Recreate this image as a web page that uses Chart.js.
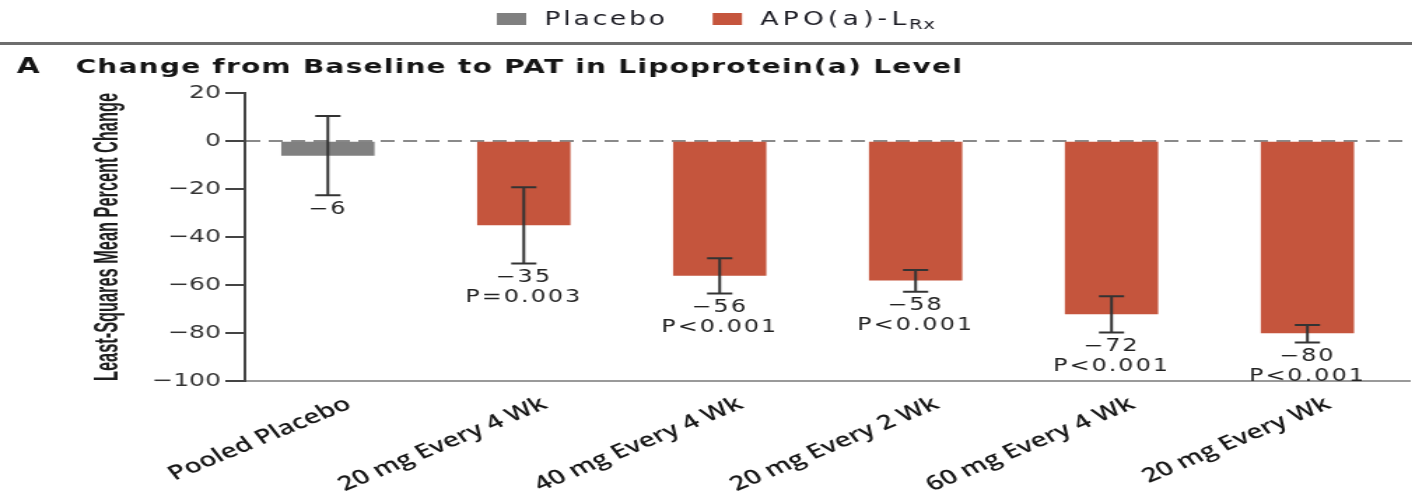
<!DOCTYPE html>
<html>
<head>
<meta charset="utf-8">
<script src="https://cdn.jsdelivr.net/npm/chart.js@4"></script>
<style>
  html, body { margin: 0; padding: 0; background: #fff; overflow: hidden; }
  /* the source figure is stretched horizontally, so draw narrow and stretch */
  #wrap { width: 1009px; height: 499px; transform: scaleX(1.3995); transform-origin: 0 0; }
</style>
</head>
<body>
<div id="wrap"><canvas id="chart" width="1009" height="499"></canvas></div>
<script>
// --- data ---
const categories = ['Pooled Placebo', '20 mg Every 4 Wk', '40 mg Every 4 Wk',
                    '20 mg Every 2 Wk', '60 mg Every 4 Wk', '20 mg Every Wk'];
const groups = ['placebo', 'drug', 'drug', 'drug', 'drug', 'drug'];
const means = [-6, -35, -56, -58, -72, -80];
const ciLow = [-22.6, -51, -63.5, -62.8, -79.8, -84];
const ciHigh = [10.4, -19.3, -48.9, -53.8, -64.7, -76.7];
const pValues = ['', 'P=0.003', 'P<0.001', 'P<0.001', 'P<0.001', 'P<0.001'];
const yTicks = [20, 0, -20, -40, -60, -80, -100];
const yTitle = 'Least-Squares Mean Percent Change';

const GRAY = '#808080';
const RED = '#c5553d';
const minus = v => (v < 0 ? '\u2212' + Math.abs(v) : String(v));

function pointsFor(group) {
  return categories.map((c, i) => i).filter(i => groups[i] === group)
    .map(i => ({ x: i, y: means[i] }));
}

// error bars, value labels, y title, panel title and legend
const extras = {
  id: 'extras',
  afterDatasetsDraw(chart) {
    const ctx = chart.ctx;
    const y = chart.scales.y;
    ctx.save();
    chart.data.datasets.forEach((ds, d) => {
      chart.getDatasetMeta(d).data.forEach((bar, j) => {
        const i = ds.data[j].x;
        const x = bar.x;
        const lo = y.getPixelForValue(ciLow[i]);
        const hi = y.getPixelForValue(ciHigh[i]);
        ctx.strokeStyle = '#333';
        ctx.lineWidth = 2;
        ctx.beginPath();
        ctx.moveTo(x, hi); ctx.lineTo(x, lo);
        ctx.moveTo(x - 9, hi); ctx.lineTo(x + 9, hi);
        ctx.moveTo(x - 9, lo); ctx.lineTo(x + 9, lo);
        ctx.stroke();

        ctx.fillStyle = '#222';
        ctx.font = '17px "DejaVu Sans"';
        ctx.letterSpacing = '1.5px';
        ctx.textAlign = 'center';
        ctx.textBaseline = 'middle';
        ctx.fillText(minus(means[i]), x, lo + 14);
        if (pValues[i]) ctx.fillText(pValues[i], x, lo + 34);
      });
    });
    ctx.restore();
  },
  afterDraw(chart) {
    const ctx = chart.ctx;
    const area = chart.chartArea;
    ctx.save();
    // rule under the legend
    ctx.strokeStyle = '#6e6e6e';
    ctx.lineWidth = 3;
    ctx.beginPath();
    ctx.moveTo(0, 43.5); ctx.lineTo(chart.width, 43.5);
    ctx.stroke();

    // y axis title, condensed like the source
    ctx.save();
    ctx.fillStyle = '#1e1e1e';
    ctx.font = '600 23px "Liberation Sans"';
    ctx.textAlign = 'center';
    ctx.textBaseline = 'middle';
    const len = area.bottom - area.top;
    const w = ctx.measureText(yTitle).width;
    ctx.translate(78, (area.top + area.bottom) / 2);
    ctx.rotate(-Math.PI / 2);
    ctx.scale(len / w, 1);
    ctx.fillText(yTitle, 0, 0);
    ctx.restore();

    // panel title
    ctx.fillStyle = '#151515';
    ctx.textBaseline = 'alphabetic';
    ctx.textAlign = 'left';
    ctx.font = 'bold 21px "DejaVu Sans"';
    ctx.letterSpacing = '2px';
    ctx.fillText('A', 12, 73);
    ctx.font = 'bold 20px "DejaVu Sans"';
    ctx.letterSpacing = '0.9px';
    ctx.fillText('Change from Baseline to PAT in Lipoprotein(a) Level', 54, 73);

    // legend
    let lx = 355;
    chart.data.datasets.forEach(ds => {
      ctx.fillStyle = ds.backgroundColor;
      ctx.fillRect(lx, 13, 21, 12);
      lx += 21 + 13;
      ctx.fillStyle = '#1c1c24';
      ctx.font = '19px "DejaVu Sans"';
      ctx.letterSpacing = ds.labelSub ? '3px' : '2px';
      ctx.fillText(ds.label, lx, 25);
      lx += ctx.measureText(ds.label).width;
      if (ds.labelSub) {
        ctx.font = '14px "DejaVu Sans"';
        ctx.letterSpacing = '0.5px';
        ctx.fillText(ds.labelSub, lx - 1, 29);
        lx += ctx.measureText(ds.labelSub).width;
      }
      lx += 32;
    });
    ctx.restore();
  }
};

new Chart(document.getElementById('chart'), {
  type: 'bar',
  data: {
    datasets: [
      { label: 'Placebo', data: pointsFor('placebo'), backgroundColor: GRAY,
        barThickness: 66, grouped: false },
      { label: 'APO(a)-L', labelSub: 'Rx', data: pointsFor('drug'), backgroundColor: RED,
        barThickness: 66, grouped: false }
    ]
  },
  options: {
    responsive: false,
    animation: false,
    devicePixelRatio: 1,
    layout: { padding: { top: 93, left: 0, right: 2, bottom: 0 } },
    plugins: { legend: { display: false }, title: { display: false }, tooltip: { enabled: false } },
    scales: {
      x: {
        type: 'linear',
        offset: false,
        min: -0.4235,
        max: 5.52,
        afterBuildTicks: s => { s.ticks = categories.map((c, i) => ({ value: i })); },
        afterFit: s => { s.height = 118; },
        grid: { display: false, offset: false },
        border: { display: true, color: '#9a9a9a', width: 2 },
        ticks: {
          autoSkip: false,
          minRotation: 30,
          maxRotation: 30,
          labelOffset: 15,
          padding: 3,
          color: '#161616',
          font: { family: '"Open Sans"', size: 20, weight: '600' },
          callback: v => categories[v]
        }
      },
      y: {
        min: -100,
        max: 20,
        afterBuildTicks: s => { s.ticks = yTicks.map(v => ({ value: v })); },
        afterFit: s => { s.width = 175; },
        grid: {
          color: c => (c.tick && c.tick.value === 0 ? '#8a8a8a' : 'transparent'),
          lineWidth: 2,
          drawTicks: true,
          tickLength: 14,
          tickColor: '#444',
          tickWidth: 2
        },
        border: { display: true, color: '#444', width: 2, dash: [10, 6] },
        ticks: {
          padding: 3,
          color: '#333',
          font: { family: '"DejaVu Sans"', size: 18 },
          callback: v => minus(v)
        },
        title: { display: false }
      }
    }
  },
  plugins: [extras]
});
</script>
</body>
</html>
